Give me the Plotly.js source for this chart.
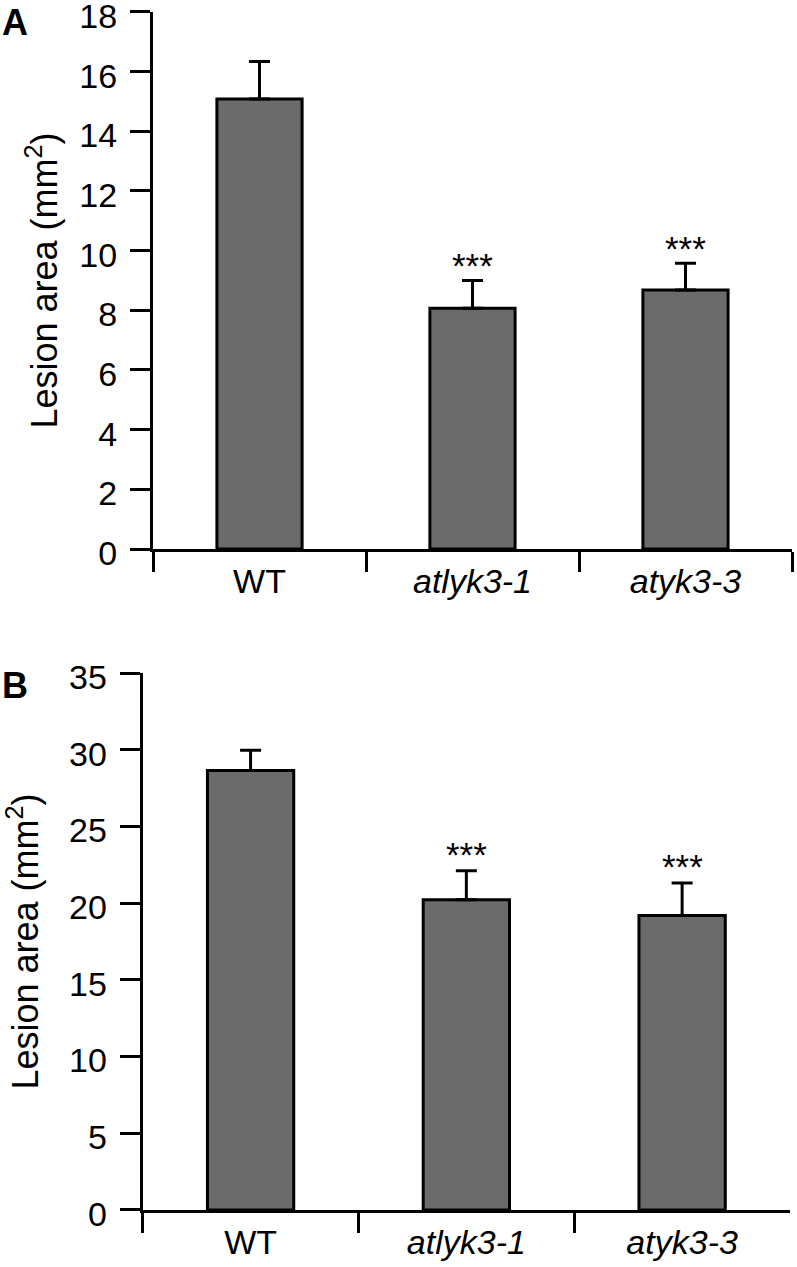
<!DOCTYPE html>
<html>
<head>
<meta charset="utf-8">
<script src="https://cdn.plot.ly/plotly-3.0.1.min.js"></script>
<style>html,body{margin:0;padding:0;background:#fff}</style>
</head>
<body>
<div id="chart" style="width:797px;height:1267px"></div>
<script>
// ---- data ----
const categories = ['WT', 'atlyk3-1', 'atyk3-3'];
const tickLabels = ['WT', '<i>atlyk3-1</i>', '<i>atyk3-3</i>'];
const lesionA = [15.08, 8.07, 8.68];
const errA = [1.26, 0.93, 0.90];
const lesionB = [28.65, 20.22, 19.20];
const errB = [1.31, 1.89, 2.11];
const signif = ['', '***', '***'];
const yTicksA = [0, 2, 4, 6, 8, 10, 12, 14, 16, 18];
const yTicksB = [0, 5, 10, 15, 20, 25, 30, 35];

const FONT = '"Liberation Sans", Arial, Helvetica, sans-serif';
const BAR = '#6b6b6b';

function barTrace(vals, errs, xa, ya) {
  return {
    type: 'bar', x: categories, y: vals, xaxis: xa, yaxis: ya,
    marker: {color: BAR, line: {color: '#000', width: 3}},
    error_y: {type: 'data', array: errs, arrayminus: errs.map(() => 0), symmetric: false,
              color: '#000', thickness: 3, width: 10.5},
    hoverinfo: 'none', showlegend: false
  };
}

function xAxis(domain, anchor) {
  return {
    domain: domain, anchor: anchor, type: 'category',
    range: [-0.5, 2.5], tickmode: 'array', tickvals: categories, ticktext: tickLabels,
    tickson: 'boundaries', ticks: 'outside', ticklen: 20, tickwidth: 3, tickcolor: '#000',
    showline: true, linewidth: 3, linecolor: '#000', showgrid: false, zeroline: false,
    tickfont: {family: FONT, size: 34, color: '#000'}, automargin: false, fixedrange: true
  };
}
function yAxis(domain, anchor, max, ticks, titleStandoff) {
  return {
    domain: domain, anchor: anchor, range: [0, max], tickmode: 'array', tickvals: ticks,
    ticks: 'outside', ticklen: 20, tickwidth: 3, tickcolor: '#000',
    showline: true, linewidth: 3, linecolor: '#000', showgrid: false, zeroline: false,
    tickfont: {family: FONT, size: 34, color: '#000'}, ticklabelstandoff: 6,
    ticklabelshift: 4, ticklabeloverflow: 'allow',
    title: {text: 'Lesion area (mm<sup>2</sup>)', standoff: titleStandoff,
            font: {family: FONT, size: 36, color: '#000'}},
    automargin: false, fixedrange: true
  };
}

const annotations = [];
function addStars(vals, errs, xa, ya, shift) {
  categories.forEach((c, i) => {
    if (!signif[i]) return;
    annotations.push({x: c, y: vals[i] + errs[i], xref: xa, yref: ya, text: signif[i],
      showarrow: false, yanchor: 'bottom', yshift: shift,
      font: {family: FONT, size: 35, color: '#000'}});
  });
}
addStars(lesionA, errA, 'x', 'y', -7);
addStars(lesionB, errB, 'x2', 'y2', -5);
annotations.push({x: 0.0, y: 1.0, xref: 'paper', yref: 'paper', xanchor: 'left', yanchor: 'top',
  text: '<b>A</b>', showarrow: false, yshift: 0, font: {family: FONT, size: 36, color: '#000'}});
annotations.push({x: 0.0, y: 0.4688 + 0.006, xref: 'paper', yref: 'paper', xanchor: 'left', yanchor: 'top',
  text: '<b>B</b>', showarrow: false, yshift: 2, font: {family: FONT, size: 36, color: '#000'}});

const layout = {
  width: 797, height: 1267,
  margin: {l: 0, r: 0, t: 0, b: 0},
  paper_bgcolor: '#fff', plot_bgcolor: '#fff',
  bargap: 0.6,
  font: {family: FONT, color: '#000'},
  xaxis: xAxis([0.19197, 0.99373], 'y'),
  yaxis: yAxis([0.56669, 0.99053], 'x', 18, yTicksA, 11),
  xaxis2: xAxis([0.17905, 0.99122], 'y2'),
  yaxis2: yAxis([0.04499, 0.46882], 'x2', 35, yTicksB, 46),
  annotations: annotations
};

Plotly.newPlot('chart', [barTrace(lesionA, errA, 'x', 'y'), barTrace(lesionB, errB, 'x2', 'y2')],
  layout, {displayModeBar: false, staticPlot: true});
</script>
</body>
</html>
